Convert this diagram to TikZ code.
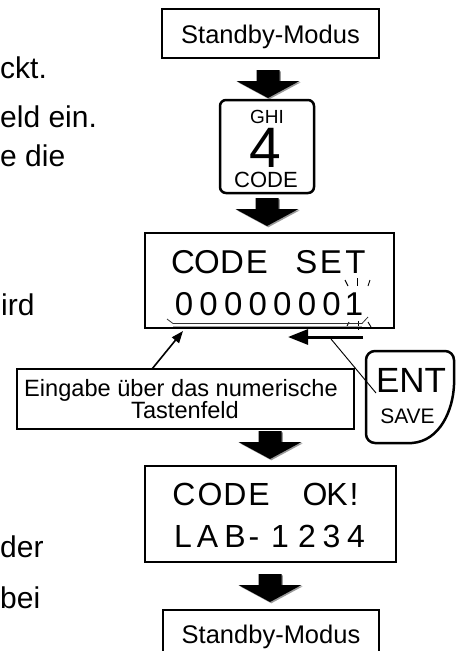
\documentclass[tikz,border=0pt]{standalone}
\usepackage{fontspec}
\setmainfont{Liberation Sans}
\usetikzlibrary{arrows.meta}
\begin{document}
\begin{tikzpicture}[x=1pt,y=-1pt,
  thinbox/.style={draw, line width=1.2pt, inner sep=0pt},
  lcdbox/.style={draw, line width=2.8pt, inner sep=0pt},
  txt/.style={inner sep=0pt, anchor=base},
  side/.style={inner sep=0pt, anchor=base west, font=\fontsize{30}{30}\selectfont},
  lcdA/.style={inner sep=0pt, anchor=base, font=\fontsize{33}{33}\selectfont},
  lcdB/.style={inner sep=0pt, anchor=base, font=\fontsize{32}{32}\selectfont},
  ray/.style={line width=0.9pt},
  blockarr/.pic={
    \begin{scope}[shift={(1.3,1.3)}]
      \fill[black!40] (-11.5,0) -- (11.5,0) -- (11.5,11) -- (31.5,11) -- (0,28) -- (-31.5,11) -- (-11.5,11) -- cycle;
    \end{scope}
    \fill[black] (-11.5,0) -- (11.5,0) -- (11.5,11) -- (31.5,11) -- (0,28) -- (-31.5,11) -- (-11.5,11) -- cycle;
  }]
\useasboundingbox (0,0) rectangle (456,651);

% left side text fragments
\node[side] (l1) at (0,78) {ckt.};
\node[side] (l2) at (0,127) {eld ein.};
\node[side] (l3) at (0,166) {e die};
\node[side] (l4) at (1,315) {ird};
\node[side] (l5) at (0,557) {der};
\node[side] (l6) at (0,608) {bei};

% top standby
\node[thinbox, minimum width=217pt, minimum height=49pt] (sb1) at (270.5,33.5) {};
\node[txt, font=\fontsize{25.5}{25.5}\selectfont] (sb1t) at (270.5,43) {Standby-Modus};

\pic at (268,70) {blockarr};

% key 4
\draw[line width=2.5pt, rounded corners=6pt] (220,100) rectangle (314,193);
\node[txt, font=\fontsize{19}{19}\selectfont, text height=13pt, text depth=0pt] (ghi) at (267,123) {GHI};
\node[txt, font=\fontsize{57}{57}\selectfont, text height=41pt, text depth=0pt] (four) at (265,167) {4};
\node[txt, font=\fontsize{22}{22}\selectfont, text height=16pt, text depth=0pt] (kcode) at (266,187) {CODE};

\pic at (267,198) {blockarr};

% CODE SET display
\node[lcdbox, minimum width=249pt, minimum height=95pt] (set) at (269.5,280.5) {};
\foreach \c/\x [count=\i] in {C/183,O/207,D/232,E/257,S/306.5,E/331,T/355.5}
  \node[lcdA] (r1c\i) at (\x,273) {\c};
\foreach \x [count=\i] in {184,208.6,233.2,257.8,282.4,307,331.6}
  \node[lcdA] (r2c\i) at (\x,315) {0};
\node[lcdA] (r2c8) at (354,315) {1};
% blink rays
\draw[ray] (345,280) -- (348,286);
\draw[ray] (357,278) -- (357,286);
\draw[ray] (370,280) -- (368,286);
\draw[ray] (349,322) -- (346,328);
\draw[ray] (358,321) -- (358,330);
\draw[ray] (368,322) -- (371,327);
% underline bracket
\draw[line width=0.8pt, black!80] (167,319) -- (173,323.5) -- (362,323.5) -- (368,317);
\draw[line width=0.8pt, black!35] (173,326) -- (362,326);

% arrows to display
\coordinate (p1) at (183,331);
\coordinate (p2) at (288,337);
\coordinate (p3) at (363,337);
\coordinate (p4) at (331,339);
\draw[line width=1.6pt, -{Triangle[length=12pt,width=9pt]}] (152,369) -- (p1);
\draw[line width=3pt, -{Triangle[length=20pt,width=15pt]}] (p3) -- (p2);

% Eingabe box
\node[thinbox, minimum width=337pt, minimum height=60pt] (eing) at (185.5,399) {};
\node[txt, font=\fontsize{23.6}{23.6}\selectfont] (e1) at (181,396) {Eingabe über das numerische};
\node[txt, font=\fontsize{23.6}{23.6}\selectfont] (e2) at (185,418) {Tastenfeld};

% ENT key
\draw[line width=2.5pt] (375,351) -- (445,351) to[out=0,in=90] (454,360) -- (454,385)
  .. controls (453,410) and (440,441) .. (412,443) -- (375,443) to[out=180,in=270] (366,434)
  -- (366,360) to[out=90,in=180] (375,351) -- cycle;
\node[txt, font=\fontsize{35}{35}\selectfont] (ent) at (411,392) {ENT};
\node[txt, font=\fontsize{21}{21}\selectfont] (save) at (407.5,423) {SAVE};
\draw[line width=0.9pt] (p4) -- (376,393);

\pic at (270,431) {blockarr};

% CODE OK display
\node[lcdbox, minimum width=251pt, minimum height=96pt] (ok) at (270.5,514) {};
\foreach \c/\x [count=\i] in {C/184,O/210,D/235,E/259,O/315,K/337,!/354}
  \node[lcdB] (r3c\i) at (\x,505) {\c};
\foreach \c/\x [count=\i] in {L/183,A/207.5,B/235,-/254,1/280,2/307,3/331.5,4/356}
  \node[lcdB] (r4c\i) at (\x,547) {\c};

\pic at (270,574) {blockarr};

% bottom standby
\node[thinbox, minimum width=216pt, minimum height=50pt] (sb2) at (271,635) {};
\node[txt, font=\fontsize{25.5}{25.5}\selectfont] (sb2t) at (271,643) {Standby-Modus};
\end{tikzpicture}
\end{document}
